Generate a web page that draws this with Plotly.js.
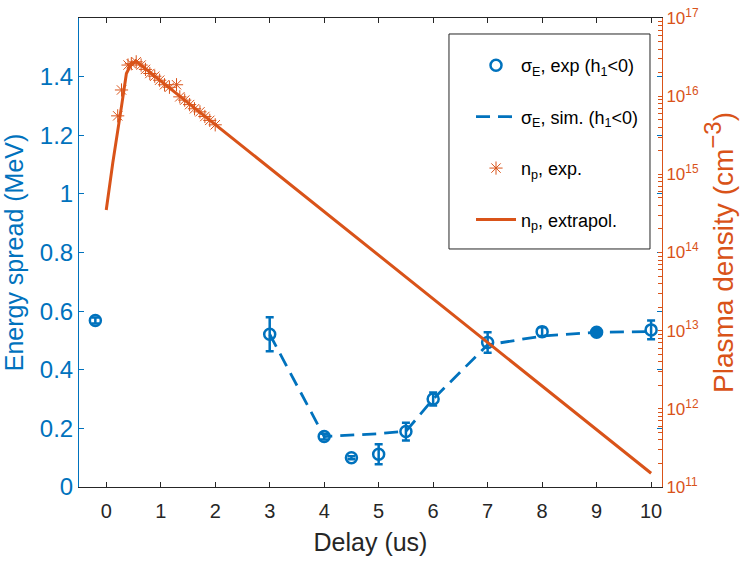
<!DOCTYPE html>
<html>
<head>
<meta charset="utf-8">
<script src="https://cdn.plot.ly/plotly-3.0.1.min.js"></script>
<style>html,body{margin:0;padding:0;background:#fff;}#chart{width:747px;height:562px;}</style>
</head>
<body>
<div id="chart"></div>
<script>
// Energy spread, experiment (h1<0)
const expDelay = [-0.2, 3, 4, 4.5, 5, 5.5, 6, 7, 8, 9, 10];
const expSpread = [0.568, 0.521, 0.172, 0.10, 0.112, 0.189, 0.30, 0.493, 0.53, 0.528, 0.536];
const expErr = [0.01, 0.058, 0.01, 0.005, 0.034, 0.03, 0.022, 0.035, 0.015, 0, 0.032];
// Energy spread, simulation (h1<0)
const simDelay = [3, 4, 5, 5.5, 6, 7, 8, 9, 10];
const simSpread = [0.521, 0.172, 0.182, 0.19, 0.30, 0.485, 0.515, 0.528, 0.53];
// Plasma density, experiment (cm^-3)
const npExpDelay = [0.21, 0.28, 0.40, 0.46, 0.55, 0.64, 0.72, 0.80, 0.89, 0.98, 1.07, 1.16, 1.29, 1.35, 1.44, 1.53, 1.62, 1.72, 1.81, 1.90, 2.0];
const npExp = [5.6e15, 1.2e16, 2.5e16, 2.6e16, 2.75e16, 2.5e16, 2.2e16, 1.95e16, 1.8e16, 1.6e16, 1.4e16, 1.3e16, 1.4e16, 9.8e15, 8.9e15, 7.8e15, 6.9e15, 6.3e15, 5.5e15, 4.9e15, 4.3e15];
// Plasma density, extrapolated (cm^-3)
const npExtDelay = [0, 0.12, 0.28, 0.37, 0.46, 0.55, 10];
const npExt = [3.5e14, 1.4e15, 7.4e15, 1.95e16, 2.6e16, 2.8e16, 1.5e11];
// Tick labels
const xTicks = [0, 1, 2, 3, 4, 5, 6, 7, 8, 9, 10];
const yTicks = [0, 0.2, 0.4, 0.6, 0.8, 1, 1.2, 1.4];
const y2Decades = [1e11, 1e12, 1e13, 1e14, 1e15, 1e16, 1e17];
const y2TickText = ['10<sup>11</sup>', '10<sup>12</sup>', '10<sup>13</sup>', '10<sup>14</sup>', '10<sup>15</sup>', '10<sup>16</sup>', '10<sup>17</sup>'];
const minorMultipliers = [2, 3, 4, 5, 6, 7, 8, 9];

const BLUE = '#0072BD', ORANGE = '#D95319', DARK = '#262626';
const FONT = '"Liberation Sans", Arial, Helvetica, sans-serif';

// y2 tick positions: decades with labels, minor positions unlabeled
const y2Vals = [], y2Text = [];
y2Decades.forEach((d, i) => {
  y2Vals.push(d); y2Text.push(y2TickText[i]);
  if (i < y2Decades.length - 1) minorMultipliers.forEach(m => { y2Vals.push(d * m); y2Text.push(''); });
});

const traces = [
  {
    x: expDelay, y: expSpread, type: 'scatter', mode: 'markers',
    name: 'σ<sub>E</sub>, exp (h<sub>1</sub>&lt;0)', legendgroup: 'a',
    marker: {symbol: expDelay.map(d => d === 9 ? 'circle' : 'circle-open'), size: 11, color: BLUE, line: {color: BLUE, width: 2.5}},
    error_y: {type: 'data', array: expErr, visible: true, color: BLUE, thickness: 2.5, width: 4}
  },
  {
    x: simDelay, y: simSpread, type: 'scatter', mode: 'lines',
    name: 'σ<sub>E</sub>, sim. (h<sub>1</sub>&lt;0)', legendgroup: 'b',
    line: {color: BLUE, width: 2.8, dash: '14px,8px'}
  },
  {
    x: npExpDelay, y: npExp, type: 'scatter', mode: 'markers', yaxis: 'y2',
    name: 'n<sub>p</sub>, exp.', legendgroup: 'c',
    marker: {symbol: 'asterisk-open', size: 11, color: ORANGE, line: {color: ORANGE, width: 1}}
  },
  {
    x: npExtDelay, y: npExt, type: 'scatter', mode: 'lines', yaxis: 'y2',
    name: 'n<sub>p</sub>, extrapol.', legendgroup: 'd',
    line: {color: ORANGE, width: 3}
  }
];

const layout = {
  width: 747, height: 562,
  margin: {l: 79, r: 85, t: 18, b: 75, pad: 0},
  paper_bgcolor: '#fff', plot_bgcolor: '#fff',
  font: {family: FONT, size: 18, color: DARK},
  showlegend: true,
  legend: {
    x: 0.6724, y: 0.938, xanchor: 'left', yanchor: 'top',
    bgcolor: 'rgba(0,0,0,0)', borderwidth: 0, itemwidth: 40,
    font: {family: FONT, size: 18, color: '#000'},
    traceorder: 'grouped', tracegroupgap: 25
  },
  shapes: [{
    type: 'rect', xref: 'paper', yref: 'paper', layer: 'above',
    x0: 0.6346, x1: 0.9794, y0: 0.5075, y1: 0.9659,
    fillcolor: '#fff', line: {color: DARK, width: 1}
  }],
  xaxis: {
    range: [-0.5, 10.2], tickvals: xTicks, ticks: 'inside', ticklen: 5,
    tickcolor: DARK, linecolor: DARK, linewidth: 1, showline: true, mirror: 'ticks',
    showgrid: false, zeroline: false, ticklabelstandoff: 6,
    tickfont: {family: FONT, size: 20, color: DARK},
    title: {text: 'Delay (us)', font: {family: FONT, size: 25, color: DARK}, standoff: 12}
  },
  yaxis: {
    range: [0, 1.6], tickvals: yTicks, ticks: 'inside', ticklen: 5,
    tickcolor: BLUE, linecolor: BLUE, linewidth: 1, showline: true, mirror: 'ticks',
    showgrid: false, zeroline: false,
    tickfont: {family: FONT, size: 24, color: BLUE},
    title: {text: 'Energy spread (MeV)', font: {family: FONT, size: 25, color: BLUE}, standoff: 10}
  },
  yaxis2: {
    type: 'log', range: [11, 17], overlaying: 'y', side: 'right',
    tickvals: y2Vals, ticktext: y2Text, ticks: 'inside', ticklen: 4,
    tickcolor: ORANGE, linecolor: ORANGE, linewidth: 1, showline: true,
    showgrid: false, zeroline: false,
    tickfont: {family: FONT, size: 17, color: ORANGE},
    title: {text: 'Plasma density (cm<sup><span style="font-size:24px">−3</span></sup>)', font: {family: FONT, size: 28, color: ORANGE}, standoff: 9}
  }
};

Plotly.newPlot('chart', traces, layout, {displayModeBar: false, staticPlot: true});
</script>
</body>
</html>
